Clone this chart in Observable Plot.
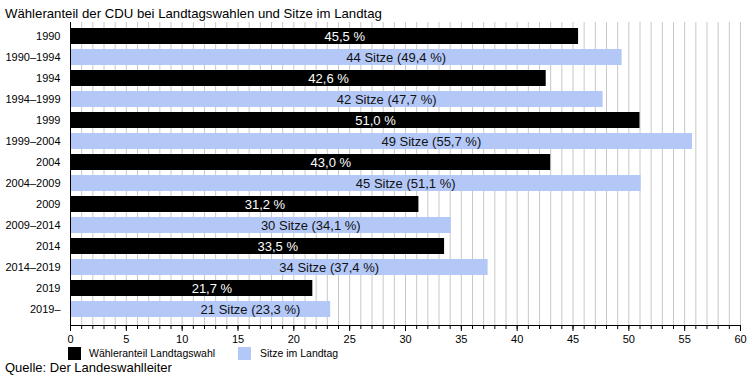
<!DOCTYPE html>
<html>
<head>
<meta charset="utf-8">
<script src="https://cdn.jsdelivr.net/npm/d3@7"></script>
<script src="https://cdn.jsdelivr.net/npm/@observablehq/plot@0.6"></script>
<style>
  html, body { margin: 0; padding: 0; background: #fff; }
  body { width: 750px; height: 375px; overflow: hidden; position: relative;
         font-family: "Liberation Sans", Arial, sans-serif; color: #000; }
  #title { position: absolute; left: 5px; top: 4px; font-size: 13.2px; line-height: 20px; white-space: nowrap; }
  #chart { position: absolute; left: 0; top: 20px; }
  .sw { position: absolute; top: 347px; width: 13px; height: 13px; }
  .lt { position: absolute; top: 347px; font-size: 10.5px; line-height: 13px; white-space: nowrap; }
  #source { position: absolute; left: 5px; top: 358px; font-size: 13px; line-height: 20px; white-space: nowrap; }
</style>
</head>
<body>
<div id="title">Wähleranteil der CDU bei Landtagswahlen und Sitze im Landtag</div>
<div id="chart"></div>
<div class="sw" id="sw1" style="left:68px"></div>
<div class="lt" id="lt1" style="left:89px"></div>
<div class="sw" id="sw2" style="left:238px"></div>
<div class="lt" id="lt2" style="left:260px"></div>
<div id="source">Quelle: Der Landeswahlleiter</div>
<script>
// Data
const elections = ["1990", "1994", "1999", "2004", "2009", "2014", "2019"];
const voteShare = [45.5, 42.6, 51.0, 43.0, 31.2, 33.5, 21.7];
const periods = ["1990–1994", "1994–1999", "1999–2004", "2004–2009", "2009–2014", "2014–2019", "2019–"];
const seats = [44, 42, 49, 45, 30, 34, 21];
const seatShare = [49.4, 47.7, 55.7, 51.1, 34.1, 37.4, 23.3];
const seriesNames = ["Wähleranteil Landtagswahl", "Sitze im Landtag"];
const seriesColors = ["#000000", "#b4c8f8"];
const xTicks = [0, 5, 10, 15, 20, 25, 30, 35, 40, 45, 50, 55, 60];

const fmt = v => v.toFixed(1).replace(".", ",");
const rows = [];
elections.forEach((e, i) => {
  rows.push({label: e, value: voteShare[i], series: seriesNames[0], text: `${fmt(voteShare[i])} %`});
  rows.push({label: periods[i], value: seatShare[i], series: seriesNames[1], text: `${seats[i]} Sitze (${fmt(seatShare[i])} %)`});
});
const order = rows.map(d => d.label);

const chart = Plot.plot({
  width: 750,
  height: 325,
  marginTop: 2,
  marginBottom: 20,
  marginLeft: 70,
  marginRight: 10,
  style: {fontFamily: "Liberation Sans, Arial, sans-serif", fontSize: "11px", color: "#000", background: "transparent"},
  x: {domain: [0, 60], label: null},
  y: {domain: order, padding: 0.25, insetBottom: 3, label: null},
  color: {domain: seriesNames, range: seriesColors},
  marks: [
    Plot.gridX(d3.range(0, 61, 1), {stroke: "#c8c8c8", strokeOpacity: 1, strokeWidth: 1}),
    Plot.barX(rows, {x: "value", y: "label", fill: "series"}),
    Plot.text(rows, {
      x: d => d.value / 2, y: "label", text: "text", textAnchor: "start",
      fill: d => d.series === seriesNames[0] ? "#ffffff" : "#111111",
      fontSize: 13
    }),
    Plot.ruleX([0], {stroke: "#000"}),
    Plot.frame({anchor: "bottom", stroke: "#000"}),
    Plot.axisX(d3.range(0, 61, 1), {tickSize: 4, tickFormat: () => "", stroke: "#000", label: null}),
    Plot.axisX(xTicks, {tickSize: 6, tickPadding: 4, fontSize: 11, stroke: "#000", fill: "#000", label: null}),
    Plot.axisY({tickSize: 0, tickPadding: 10, fontSize: 11, fill: "#000", label: null})
  ]
});
document.getElementById("chart").appendChild(chart);

document.getElementById("sw1").style.background = seriesColors[0];
document.getElementById("sw2").style.background = seriesColors[1];
document.getElementById("lt1").textContent = seriesNames[0];
document.getElementById("lt2").textContent = seriesNames[1];
</script>
</body>
</html>
